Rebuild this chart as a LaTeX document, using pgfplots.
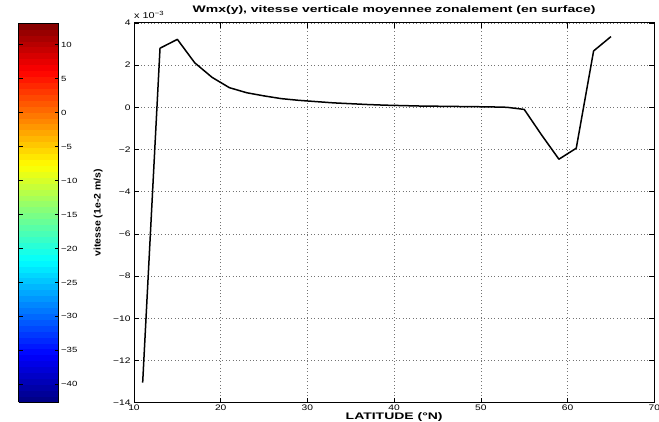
\documentclass[border=0pt]{standalone}
\usepackage{pgfplots}
\pgfplotsset{compat=1.18}
\usepackage{fontspec}
\setmainfont{Liberation Sans}[FakeStretch=1.28]
\newfontfamily\widefont{Liberation Sans}[FakeStretch=1.47]
\newfontfamily\ylfont{Liberation Sans}[FakeStretch=1.1]
\begin{document}
\begin{tikzpicture}[x=1pt,y=1pt]
\useasboundingbox (0,0) rectangle (659,422);
% colour bar (hidden host axis)
\begin{axis}[
  at={(10pt,20pt)}, anchor=south west,
  scale only axis, width=40pt, height=379pt,
  hide axis,
  colormap/jet,
  point meta min=-42.6, point meta max=13.2,
  colorbar sampled,
  colorbar style={
    at={(parent axis.south west)}, anchor=south west,
    scale only axis, width=40pt, height=379pt,
    samples=65,
    ytick={-40,-35,-30,-25,-20,-15,-10,-5,0,5,10},
    yticklabels={−40,−35,−30,−25,−20,−15,−10,−5,0,5,10},
    ytick pos=both, yticklabel pos=right,
    tick align=inside, major tick length=4pt,
    tick style={black, line width=0.6pt},
    axis line style={black, line width=0.8pt},
    yticklabel style={font=\fontsize{7.5}{8}\selectfont, xshift=-1pt},
  },
]
\addplot[draw=none] coordinates {(0,0)};
\end{axis}
% main axis
\begin{axis}[
  at={(134pt,19.3pt)}, anchor=south west,
  scale only axis, width=520.3pt, height=379.8pt,
  xmin=10, xmax=70, ymin=-14, ymax=4,
  xtick={10,20,30,40,50,60,70},
  ytick={-14,-12,-10,-8,-6,-4,-2,0,2,4},
  yticklabels={−14,−12,−10,−8,−6,−4,−2,0,2,4},
  /pgf/number format/assume math mode=true,
  tick align=inside, major tick length=5pt,
  tick style={black, line width=0.6pt},
  axis line style={black, line width=1pt},
  grid=major,
  major grid style={black!55, line width=0.5pt, dash pattern=on 0.8pt off 2.6pt},
  ticklabel style={font=\fontsize{8}{9}\selectfont},
  xticklabel style={yshift=1pt},
  title={\widefont\bfseries Wmx(y), vitesse verticale moyennee zonalement (en surface)},
  title style={at={(axis description cs:0.5,1)}, anchor=base, yshift=4.4pt, font=\fontsize{9.5}{10}\selectfont},
  xlabel={\widefont\bfseries LATITUDE (°N)},
  xlabel style={at={(axis description cs:0.5,0)}, anchor=base, yshift=-16.8pt, font=\fontsize{9.5}{10}\selectfont},
  ylabel={\ylfont\bfseries vitesse (1e-2 m/s)},
  ylabel style={at={(axis description cs:-0.069,0.5)}, anchor=center, font=\fontsize{9.5}{10}\selectfont},
  clip=false,
]
\addplot[black, line width=1.5pt, line join=round] coordinates {
(11,-13.05) (13,2.80) (15,3.22) (17,2.11) (19,1.42) (21,0.93) (23,0.69)
(25,0.54) (27,0.41) (29,0.33) (31,0.27) (33,0.21) (35,0.17) (37,0.13)
(39,0.10) (41,0.08) (43,0.06) (45,0.05) (47,0.04) (49,0.03) (51,0.02)
(53,0.0) (55,-0.10) (57,-1.31) (59,-2.46) (61,-1.94) (63,2.67) (65,3.35)
};
\node[anchor=base west, font=\fontsize{8.5}{9}\selectfont, inner sep=0pt] at ([yshift=4pt]rel axis cs:0,1) {x 10\raisebox{3.5pt}{\fontsize{6}{7}\selectfont −3}};
\end{axis}
\end{tikzpicture}
\end{document}
